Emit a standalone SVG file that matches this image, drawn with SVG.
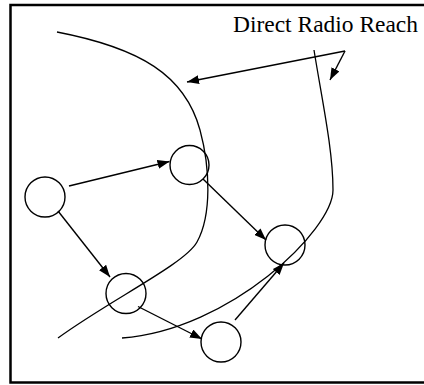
<svg xmlns="http://www.w3.org/2000/svg" width="424" height="385" viewBox="0 0 424 385">
<defs>
<style>
.node{fill:none;stroke:#000;stroke-width:1.4}
.edge{fill:none;stroke:#000;stroke-width:1.4}
.curve{fill:none;stroke:#000;stroke-width:1.3}
.label{font-family:"Liberation Serif","Times New Roman",serif;font-size:23px;fill:#000}
</style>
<marker id="ah" markerUnits="userSpaceOnUse" markerWidth="12" markerHeight="9" refX="12" refY="4.5" orient="auto">
<path d="M0,0 L12,4.5 L0,9 z" fill="#000"/>
</marker>
</defs>
<rect x="0" y="0" width="424" height="385" fill="#fff"/>
<rect x="10.5" y="5" width="420" height="377.5" fill="none" stroke="#000" stroke-width="2.5"/>
<g id="reach-boundaries">
<path class="curve" d="M57,32 C140,48 185,75 200,130 C210,167 212,215 197,242 C185,264 110,300 58,338"/>
<path class="curve" d="M314,50 C322,100 333,150 333,190 C333,230 230,330 122,338"/>
</g>
<g id="nodes">
<g id="n1"><circle class="node" cx="45" cy="197" r="20"/></g>
<g id="n2"><circle class="node" cx="189.5" cy="165" r="19.5"/></g>
<g id="n3"><circle class="node" cx="285" cy="245" r="20"/></g>
<g id="n4"><circle class="node" cx="126" cy="293.5" r="20"/></g>
<g id="n5"><circle class="node" cx="221" cy="342" r="20"/></g>
</g>
<g id="connectors">
<line class="edge" x1="69" y1="186" x2="169.5" y2="161.5" marker-end="url(#ah)"/>
<line class="edge" x1="58" y1="211" x2="110" y2="277" marker-end="url(#ah)"/>
<line class="edge" x1="203" y1="179" x2="266" y2="240" marker-end="url(#ah)"/>
<line class="edge" x1="138" y1="306.5" x2="202" y2="339" marker-end="url(#ah)"/>
<line class="edge" x1="235" y1="320" x2="284" y2="263" marker-end="url(#ah)"/>
</g>
<g id="label">
<text class="label" x="233" y="31.5" textLength="185" lengthAdjust="spacingAndGlyphs">Direct Radio Reach</text>
<line class="edge" x1="345" y1="51" x2="187" y2="82" marker-end="url(#ah)"/>
<line class="edge" x1="345" y1="51" x2="330" y2="80" marker-end="url(#ah)"/>
</g>
</svg>
